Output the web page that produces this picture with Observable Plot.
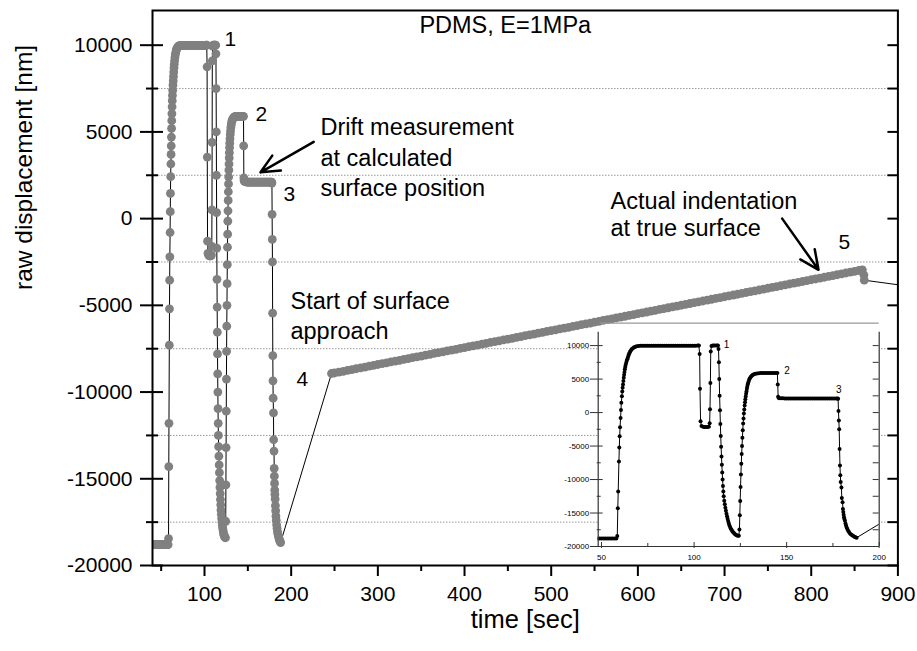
<!DOCTYPE html>
<html>
<head>
<meta charset="utf-8">
<script src="https://cdn.jsdelivr.net/npm/d3@7"></script>
<script src="https://cdn.jsdelivr.net/npm/@observablehq/plot@0.6"></script>
<style>
  html, body { margin: 0; padding: 0; background: white; }
  #wrap { position: relative; width: 917px; height: 651px; overflow: hidden; }
  #wrap svg { position: absolute; }
</style>
</head>
<body>
<div id="wrap"></div>
<script>
// ---------- data ----------
// approach cycles 1-3 (time [sec], raw displacement [nm])
const cycleTime = [
  41,42,43,44,45,46,47,48,49,50,51,52,53,54,55,56,57,58,58.5,
  58.8,59.0,59.4,59.6,59.8,60.0,60.3,60.5,60.7,61.0,61.2,61.4,61.6,61.8,62.0,62.2,62.4,62.6,62.8,63.0,
  63.3,63.6,63.9,64.2,64.5,64.8,65.1,65.5,65.9,66.4,67.0,67.6,68.3,69.0,70,71,
  72,73,74,75,76,77,78,79,80,81,82,83,84,85,86,87,88,89,90,91,92,93,94,95,96,97,98,99,100,101,102,
  102.6,103.0,103.2,103.5,104.0,104.8,105.6,106.4,107.2,108.0,
  108.4,108.6,108.8,109.0,109.4,110.0,110.8,111.6,112.4,112.9,
  113.2,113.4,113.6,113.8,114.0,114.2,114.4,114.6,114.8,115.0,115.2,115.4,115.6,115.8,116.0,
  116.3,116.6,116.9,117.2,117.5,117.8,118.1,118.4,118.7,119.0,119.4,119.8,120.2,120.6,121.0,
  121.5,122.0,122.5,123.0,123.6,124.2,
  124.5,124.7,124.9,125.1,125.3,125.5,125.7,125.9,126.1,126.3,126.5,126.7,126.9,127.1,127.3,
  127.5,127.7,127.9,128.1,128.3,128.5,128.7,128.9,129.1,129.4,129.7,130.0,130.4,130.8,131.3,
  131.8,132.4,133.0,134,135,136,137,138,139,140,141,142,143,144,145.0,
  145.2,145.4,145.7,146,147,148,149,150,151,152,153,154,155,156,157,158,159,160,161,162,163,
  164,165,166,167,168,169,170,171,172,173,174,175,176,177,177.5,
  177.8,178.0,178.2,178.4,178.6,178.8,179.0,179.2,179.6,179.8,180.2,180.4,180.6,180.8,181.0,
  181.2,181.5,181.8,182.1,182.4,182.8,183.2,183.7,184.2,184.8,185.4,186.0,186.6,187.2,187.8
];
const cycleValue = [
  -18800,-18800,-18800,-18800,-18800,-18800,-18800,-18800,-18800,-18800,-18800,-18800,-18800,-18800,-18800,-18800,-18800,-18800,-18450,
  -14300,-11800,-7300,-5200,-3550,-2200,-800,400,1450,2420,3150,3700,4200,4700,5200,5650,6050,6450,6800,7100,
  7400,7700,7950,8200,8450,8700,8900,9100,9300,9480,9620,9740,9830,9890,9940,9970,
  9980,9980,9980,9980,9980,9980,9980,9980,9980,9980,9980,9980,9980,9980,9980,9980,9980,9980,9980,9980,9980,9980,9980,9980,9980,9980,9980,9980,9980,9980,10000,
  10000,8750,3550,-1300,-2000,-2100,-2150,-2150,-2150,-2100,
  -1600,500,4400,9100,9950,10000,10000,10000,10000,10000,
  9500,7500,5000,2500,350,-1700,-3500,-5100,-6550,-7800,-8950,-10000,-10950,-11800,-12500,
  -13150,-13700,-14200,-14650,-15100,-15500,-15850,-16200,-16500,-16800,-17050,-17300,-17500,-17700,-17850,
  -18000,-18150,-18250,-18320,-18380,-18400,
  -17450,-15350,-13200,-11100,-9250,-7650,-6200,-5000,-3750,-2650,-1650,-900,-150,450,1050,
  1550,2000,2400,2800,3150,3500,3800,4100,4350,4600,4850,5050,5250,5400,5550,
  5650,5730,5800,5850,5880,5900,5900,5900,5900,5900,5900,5900,5900,5900,5900,
  4200,2350,2200,2150,2150,2120,2100,2100,2100,2100,2100,2100,2100,2100,2100,2100,2100,2100,2100,2100,2100,
  2100,2100,2100,2100,2100,2100,2100,2100,2100,2100,2100,2100,2100,2100,2100,2050,
  250,-1200,-2500,-5450,-7900,-9350,-10350,-11200,-12750,-13400,-14400,-14850,-15270,-15650,-15900,
  -16170,-16550,-16850,-17150,-17400,-17650,-17850,-18050,-18200,-18330,-18450,-18550,-18620,-18680,-18700
];
// slow surface approach and indentation (4 -> 5)
const rampTime = [
  246.5,250,255,260,265,270,275,280,285,290,295,300,305,310,315,320,325,330,335,340,345,350,355,360,365,370,
  375,380,385,390,395,400,405,410,415,420,425,430,435,440,445,450,455,460,465,470,475,480,485,490,495,500,
  505,510,515,520,525,530,535,540,545,550,555,560,565,570,575,580,585,590,595,600,605,610,615,620,625,630,
  635,640,645,650,655,660,665,670,675,680,685,690,695,700,705,710,715,720,725,730,735,740,745,750,755,760,
  765,770,775,780,785,790,795,800,805,810,815,820,825,830,835,840,845,850,855,859,860.8,861.2,950
];
const rampValue = [
  -8930,-8900,-8850,-8805,-8755,-8705,-8655,-8610,-8560,-8510,-8460,-8410,-8365,-8315,-8265,-8215,-8170,-8120,-8070,-8020,-7975,-7925,-7875,-7825,-7775,-7730,
  -7680,-7630,-7580,-7535,-7485,-7435,-7385,-7340,-7290,-7240,-7190,-7140,-7095,-7045,-6995,-6945,-6900,-6850,-6800,-6750,-6700,-6655,-6605,-6555,-6505,-6460,
  -6410,-6360,-6310,-6265,-6215,-6165,-6115,-6065,-6020,-5970,-5920,-5870,-5825,-5775,-5725,-5675,-5630,-5580,-5530,-5480,-5430,-5385,-5335,-5285,-5235,-5190,
  -5140,-5090,-5040,-4995,-4945,-4895,-4845,-4795,-4750,-4700,-4650,-4600,-4555,-4505,-4455,-4405,-4360,-4310,-4260,-4210,-4160,-4115,-4065,-4015,-3965,-3920,
  -3870,-3820,-3770,-3720,-3675,-3625,-3575,-3525,-3480,-3430,-3380,-3330,-3285,-3235,-3185,-3135,-3085,-3040,-2990,-2950,-3250,-3550,-4150
];

// axes
const xMajor = [100,200,300,400,500,600,700,800,900];
const xMinor = [50,150,250,350,450,550,650,750,850];
const yMajor = [10000,5000,0,-5000,-10000,-15000,-20000];
const yMinor = [7500,2500,-2500,-7500,-12500,-17500];
const insetXMajor = [50,100,150,200];
const insetXMinor = [75,125,175];

// annotations
const title = [{text: "PDMS, E=1MPa", t: 447, v: 10720}];
const cycleNumbers = [
  {text: "1", t: 123, v: 9970},
  {text: "2", t: 158.8, v: 5650},
  {text: "3", t: 191.1, v: 1030},
  {text: "4", t: 206, v: -9640},
  {text: "5", t: 831.5, v: -1740}
];
const notes = [
  {text: "Drift measurement", t: 233.8, v: 4810},
  {text: "at calculated", t: 233.8, v: 3050},
  {text: "surface position", t: 233.8, v: 1290},
  {text: "Start of surface", t: 199.2, v: -5200},
  {text: "approach", t: 199.2, v: -6930},
  {text: "Actual indentation", t: 568.4, v: 570},
  {text: "at true surface", t: 568.4, v: -990}
];
const arrows = [
  {t1: 226, v1: 4430, t2: 164.6, v2: 2670},
  {t1: 766.5, v1: 0, t2: 808.4, v2: -2950}
];
const insetLabels = [
  {text: "1", t: 116, v: 10150},
  {text: "2", t: 148.7, v: 6200},
  {text: "3", t: 176.7, v: 3470}
];

// ---------- build ----------
const cycles = cycleTime.map((t, i) => ({t, v: cycleValue[i]}));
const ramp = rampTime.map((t, i) => ({t, v: rampValue[i]}));
const all = cycles.concat(ramp);
const FONT = "'Liberation Sans', Arial, Helvetica, sans-serif";
const fmt = d => String(d);

const main = Plot.plot({
  width: 917, height: 651,
  marginLeft: 152, marginRight: 19.6, marginTop: 10, marginBottom: 86,
  x: {domain: [40, 900]},
  y: {domain: [-20000, 12000]},
  style: {fontFamily: FONT, fontSize: "21px", background: "white", color: "black", overflow: "visible"},
  marks: [
    Plot.ruleY(yMinor, {stroke: "#999", strokeWidth: 1, strokeDasharray: "1.5,1.5"}),
    Plot.line(all, {x: "t", y: "v", stroke: "black", strokeWidth: 1, clip: true}),
    Plot.dot(all, {x: "t", y: "v", r: 4.4, fill: "#808080", stroke: null, clip: true}),
    Plot.frame({stroke: "black", strokeWidth: 2}),
    // left ticks (crossing)
    Plot.ruleY(yMajor, {x1: 40, x2: 40, insetLeft: -12, insetRight: -11, strokeWidth: 2}),
    Plot.ruleY(yMinor, {x1: 40, x2: 40, insetLeft: -6, insetRight: -6, strokeWidth: 2}),
    // right ticks (inward)
    Plot.ruleY(yMajor.concat(yMinor), {x1: 900, x2: 900, insetLeft: -10, strokeWidth: 2}),
    // bottom ticks
    Plot.ruleX(xMajor, {y1: -20000, y2: -20000, insetBottom: -11, strokeWidth: 2}),
    Plot.ruleX(xMinor, {y1: -20000, y2: -20000, insetBottom: -6, strokeWidth: 2}),
    Plot.axisY({ticks: yMajor, tickSize: 0, tickPadding: 20, tickFormat: fmt, fontSize: 21, label: null}),
    Plot.axisX({ticks: xMajor, tickSize: 0, tickPadding: 21, tickFormat: fmt, fontSize: 21, label: null}),
    Plot.text(["time [sec]"], {frameAnchor: "bottom", dy: 62.5, lineAnchor: "bottom", fontSize: 25.5}),
    Plot.text(["raw displacement [nm]"], {frameAnchor: "left", dx: -121, dy: 2, rotate: -90, lineAnchor: "bottom", fontSize: 24.5}),
    Plot.text(title, {x: "t", y: "v", text: "text", textAnchor: "middle", lineAnchor: "bottom", fontSize: 23.5, fill: "black"}),
    Plot.text(cycleNumbers, {x: "t", y: "v", text: "text", textAnchor: "start", lineAnchor: "bottom", fontSize: 21, fill: "black"}),
    Plot.text(notes, {x: "t", y: "v", text: "text", textAnchor: "start", lineAnchor: "bottom", fontSize: 23.5, fill: "black"}),
    Plot.arrow(arrows, {x1: "t1", y1: "v1", x2: "t2", y2: "v2", stroke: "black", strokeWidth: 2.5, headLength: 16, headAngle: 50})
  ]
});
main.style.left = "0px"; main.style.top = "0px";

const inset = Plot.plot({
  width: 345, height: 250,
  marginLeft: 57.7, marginRight: 6.3, marginTop: 16.7, marginBottom: 19,
  x: {domain: [48.2, 200]},
  y: {domain: [-20000, 12000]},
  style: {fontFamily: FONT, fontSize: "8px", background: "transparent", color: "black", overflow: "visible"},
  marks: [
    Plot.frame({fill: "white", stroke: "none"}),
    Plot.ruleY([12000], {x1: 48.2, x2: 200, dy: -9, insetLeft: 2, stroke: "#999", strokeWidth: 1.2}),
    Plot.line(cycles.concat([ramp[0]]), {x: "t", y: "v", stroke: "black", strokeWidth: 1, clip: true}),
    Plot.dot(cycles, {x: "t", y: "v", r: 2, fill: "black", stroke: null, clip: true}),
    Plot.ruleX([48.2, 200], {stroke: "#333", strokeWidth: 1.2}),
    Plot.ruleY([-20000], {stroke: "#333", strokeWidth: 1.2}),
    Plot.ruleY(yMajor, {x1: 48.2, x2: 48.2, insetLeft: -7.7, insetRight: -5, stroke: "#333"}),
    Plot.ruleY(yMinor, {x1: 48.2, x2: 48.2, insetLeft: -1, insetRight: -3, stroke: "#333"}),
    Plot.ruleY(yMajor.concat(yMinor), {x1: 200, x2: 200, insetLeft: -6, stroke: "#333"}),
    Plot.ruleX(insetXMajor, {y1: -20000, y2: -20000, insetTop: -4, insetBottom: -2, stroke: "#333"}),
    Plot.ruleX(insetXMinor, {y1: -20000, y2: -20000, insetTop: -3, stroke: "#333"}),
    Plot.axisY({ticks: yMajor, tickSize: 0, tickPadding: 9, tickFormat: fmt, fontSize: 8, label: null}),
    Plot.axisX({ticks: insetXMajor, tickSize: 0, tickPadding: 8, tickFormat: fmt, fontSize: 8, label: null}),
    Plot.text(insetLabels, {x: "t", y: "v", text: "text", textAnchor: "start", fontSize: 10, fill: "black"})
  ]
});
inset.style.left = "540px"; inset.style.top = "315px";

const wrap = document.getElementById("wrap");
wrap.appendChild(main);
wrap.appendChild(inset);
</script>
</body>
</html>
